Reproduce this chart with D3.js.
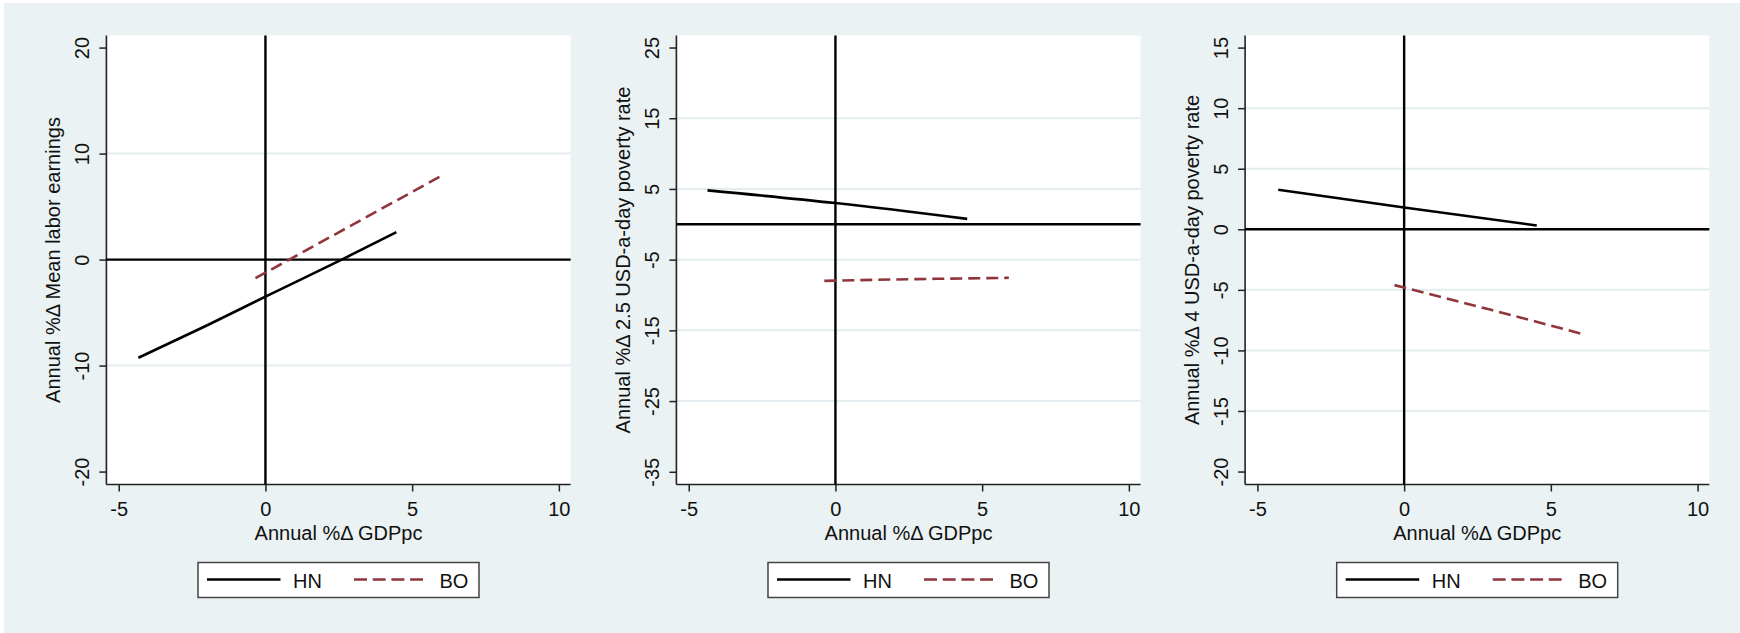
<!DOCTYPE html>
<html>
<head>
<meta charset="utf-8">
<script src="https://cdn.jsdelivr.net/npm/d3@7"></script>
<style>
  html, body { margin: 0; padding: 0; background: #ffffff; }
  svg { display: block; }
  text { font-family: "Liberation Sans", Arial, sans-serif; fill: #111; }
</style>
</head>
<body>
<svg id="chart" width="1740" height="633"></svg>
<script>
// ---------------- data ----------------
const seriesNames = ["HN", "BO"];
const xTitle = "Annual %\u0394 GDPpc";
const yTitles = [
  "Annual %\u0394 Mean labor earnings",
  "Annual %\u0394 2.5 USD-a-day poverty rate",
  "Annual %\u0394 4 USD-a-day poverty rate"
];
const xTicks = [-5, 0, 5, 10];
const xDomain = [-5.42, 10.4];
const yTicks1 = [20, 10, 0, -10, -20];
const yTicks2 = [25, 15, 5, -5, -15, -25, -35];
const yTicks3 = [15, 10, 5, 0, -5, -10, -15, -20];
const yDomain1 = [-21.22, 21.14];
const yDomain2 = [-36.8, 26.7];
const yDomain3 = [-21.07, 16.0];

// panel 1: mean labor earnings
const hnX1 = [-4.33, -2.0, 0, 2.6, 4.46];
const hnY1 = [-9.27, -6.22, -3.5, 0.0, 2.59];
const boX1 = [-0.34, 2.53, 6.03];
const boY1 = [-1.76, 2.62, 7.95];
// panel 2: 2.5 USD poverty
const hnX2 = [-4.36, 0, 4.49];
const hnY2 = [4.8, 3.0, 0.76];
const boX2 = [-0.38, 2.5, 5.91];
const boY2 = [-8.0, -7.77, -7.57];
// panel 3: 4 USD poverty
const hnX3 = [-4.29, 0, 4.52];
const hnY3 = [3.27, 1.8, 0.32];
const boX3 = [-0.33, 2.96, 6.02];
const boY3 = [-4.61, -6.65, -8.61];

const panelData = [
  { yTicks: yTicks1, yDomain: yDomain1, hn: [hnX1, hnY1], bo: [boX1, boY1], title: yTitles[0] },
  { yTicks: yTicks2, yDomain: yDomain2, hn: [hnX2, hnY2], bo: [boX2, boY2], title: yTitles[1] },
  { yTicks: yTicks3, yDomain: yDomain3, hn: [hnX3, hnY3], bo: [boX3, boY3], title: yTitles[2] }
];

// ---------------- layout / style ----------------
const BG = "#EAF2F3";
const GRID = "#E3ECEE";
const HN_COLOR = "#000000";
const BO_COLOR = "#90353B";
const plotLefts = [106.4, 676.4, 1245.1];
const plotWidth = 464.2;
const plotTop = 35.5, plotBottom = 484.5;
const FONT = 20;
const fmt = d => String(d);   // plain hyphen-minus like the original

const svg = d3.select("#chart");
svg.append("rect").attr("x", 4).attr("y", 3).attr("width", 1740 - 4).attr("height", 633 - 3).attr("fill", BG);

panelData.forEach((p, i) => {
  const left = plotLefts[i], right = left + plotWidth;
  const x = d3.scaleLinear().domain(xDomain).range([left, right]);
  const y = d3.scaleLinear().domain(p.yDomain).range([plotBottom, plotTop]);
  const g = svg.append("g");

  // plot region
  g.append("rect").attr("x", left).attr("y", plotTop)
    .attr("width", right - left).attr("height", plotBottom - plotTop).attr("fill", "#fff");

  // gridlines (skip the extreme ticks)
  const minT = d3.min(p.yTicks), maxT = d3.max(p.yTicks);
  g.selectAll(".grid").data(p.yTicks.filter(t => t !== minT && t !== maxT)).join("line")
    .attr("x1", left).attr("x2", right)
    .attr("y1", d => y(d)).attr("y2", d => y(d))
    .attr("stroke", GRID).attr("stroke-width", 2);

  // y axis
  const yAxis = d3.axisLeft(y).tickValues(p.yTicks).tickSize(7).tickSizeOuter(0).tickFormat(fmt);
  const ya = g.append("g").attr("transform", `translate(${left},0)`).call(yAxis);
  ya.select(".domain").attr("stroke", "#222").attr("stroke-width", 1.6)
    .attr("d", `M0,${plotTop}V${plotBottom}`);
  ya.selectAll(".tick line").attr("stroke", "#222").attr("stroke-width", 1.5);
  ya.selectAll(".tick text")
    .attr("x", null).attr("dy", null)
    .attr("text-anchor", "middle")
    .attr("transform", "translate(-24,0) rotate(-90)")
    .attr("dy", "0.35em")
    .style("font-size", FONT + "px").style("font-family", "Liberation Sans, Arial, sans-serif").attr("fill", "#111");

  // x axis
  const xAxis = d3.axisBottom(x).tickValues(xTicks).tickSize(7).tickSizeOuter(0).tickFormat(fmt);
  const xa = g.append("g").attr("transform", `translate(0,${plotBottom})`).call(xAxis);
  xa.select(".domain").attr("stroke", "#222").attr("stroke-width", 1.6)
    .attr("d", `M${left},0H${right}`);
  xa.selectAll(".tick line").attr("stroke", "#222").attr("stroke-width", 1.5);
  xa.selectAll(".tick text").attr("y", 31).attr("dy", null)
    .style("font-size", FONT + "px").style("font-family", "Liberation Sans, Arial, sans-serif").attr("fill", "#111");

  // reference lines at zero
  g.append("line").attr("x1", x(0)).attr("x2", x(0)).attr("y1", plotTop).attr("y2", plotBottom)
    .attr("stroke", "#000").attr("stroke-width", 2.4);
  g.append("line").attr("x1", left).attr("x2", right).attr("y1", y(0)).attr("y2", y(0))
    .attr("stroke", "#000").attr("stroke-width", 2.4);

  // series
  const line = d3.line().x(d => x(d[0])).y(d => y(d[1])).curve(d3.curveMonotoneX);
  const hnPts = d3.zip(p.hn[0], p.hn[1]);
  const boPts = d3.zip(p.bo[0], p.bo[1]);
  g.append("path").attr("d", line(hnPts)).attr("fill", "none")
    .attr("stroke", HN_COLOR).attr("stroke-width", 2.6);
  g.append("path").attr("d", line(boPts)).attr("fill", "none")
    .attr("stroke", BO_COLOR).attr("stroke-width", 2.6).attr("stroke-dasharray", "12,6");

  // axis titles
  const cx = (left + right) / 2;
  g.append("text").attr("x", cx).attr("y", 540).attr("text-anchor", "middle")
    .style("font-size", FONT + "px").text(xTitle);
  const cy = (plotTop + plotBottom) / 2;
  g.append("text").attr("text-anchor", "middle").attr("dy", "0.35em")
    .attr("transform", `translate(${left - 53},${cy}) rotate(-90)`)
    .style("font-size", FONT + "px").text(p.title);

  // legend
  const lg = g.append("g").attr("transform", `translate(${cx},0)`);
  lg.append("rect").attr("x", -140.5).attr("y", 562.5).attr("width", 281).attr("height", 35)
    .attr("fill", "#fff").attr("stroke", "#444").attr("stroke-width", 1.5);
  lg.append("line").attr("x1", -131.5).attr("x2", -58).attr("y1", 579.5).attr("y2", 579.5)
    .attr("stroke", HN_COLOR).attr("stroke-width", 2.6);
  lg.append("text").attr("x", -45.5).attr("y", 587.5).style("font-size", FONT + "px").text(seriesNames[0]);
  lg.append("line").attr("x1", 15.5).attr("x2", 84.5).attr("y1", 579.5).attr("y2", 579.5)
    .attr("stroke", BO_COLOR).attr("stroke-width", 2.6).attr("stroke-dasharray", "13,5.7");
  lg.append("text").attr("x", 101).attr("y", 587.5).style("font-size", FONT + "px").text(seriesNames[1]);
});
</script>
</body>
</html>
